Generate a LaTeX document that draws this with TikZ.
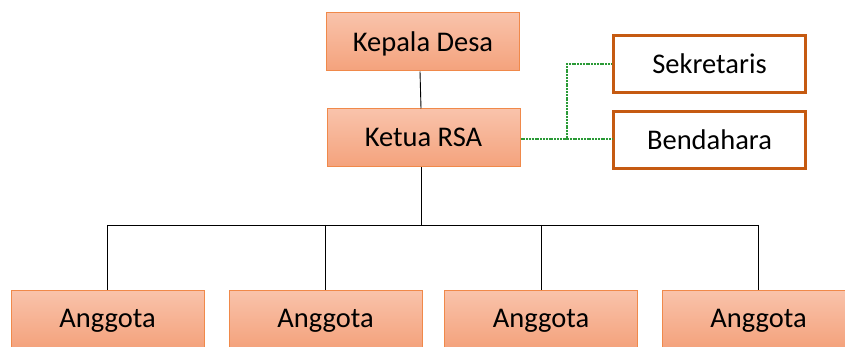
\documentclass[tikz,border=0pt]{standalone}
\usepackage{fontspec}
\setmainfont{Carlito}
\definecolor{boxtop}{HTML}{F9C3AB}
\definecolor{boxbot}{HTML}{F4A27C}
\definecolor{boxline}{HTML}{F0894A}
\definecolor{darkline}{HTML}{C55A11}
\definecolor{dotgreen}{HTML}{2A9A36}
\begin{document}
\begin{tikzpicture}[x=1pt,y=-1pt,
  orgbox/.style={draw=boxline,line width=1pt,top color=boxtop,bottom color=boxbot,
    minimum width=193pt,minimum height=58pt,inner sep=0pt,text depth=1pt,font=\fontsize{28.5}{32}\selectfont},
  staffbox/.style={draw=darkline,line width=2.6pt,fill=white,
    minimum width=192pt,minimum height=57pt,inner sep=0pt,font=\fontsize{28.5}{32}\selectfont},
  conn/.style={draw=black,line width=0.9pt},
  dotconn/.style={draw=dotgreen,line width=1.1pt,dash pattern=on 2pt off 0.8pt}]
\useasboundingbox (0,0) rectangle (845,347);
\clip (0,0) rectangle (845,347);
\fill[white] (0,0) rectangle (845,347);
\node[orgbox] (kepala) at (423,42) {Kepala Desa};
\node[orgbox] (ketua) at (423.5,138) {Ketua RSA};
\node[staffbox] (sek) at (709.5,64) {Sekretaris};
\node[staffbox] (ben) at (709.5,140) {Bendahara};
\node[orgbox] (a1) at (107.5,319) {Anggota};
\node[orgbox] (a2) at (325.5,319) {Anggota};
\node[orgbox] (a3) at (541,319) {Anggota};
\node[orgbox] (a4) at (758.5,319) {Anggota};
\coordinate (bus) at (421,225);
\coordinate (split) at (567,139);
\draw[conn] (kepala.south -| 420,0) -- (ketua.north -| 421,0);
\draw[conn] (ketua.south -| bus) -- (bus);
\draw[conn] (a1.north |- bus) -- (a4.north |- bus);
\foreach \n in {a1,a2,a3,a4} \draw[conn] (\n.north |- bus) -- (\n.north);
\draw[dotconn] (ketua.east |- split) -- (split) |- (sek.west);
\draw[dotconn] (split) -- (ben.west |- split);
\end{tikzpicture}
\end{document}
